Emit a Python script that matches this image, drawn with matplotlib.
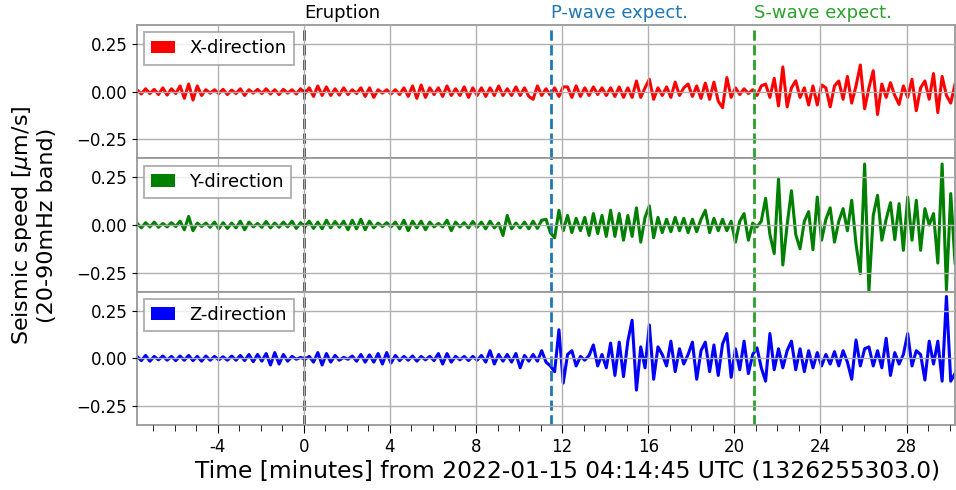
import numpy as np
import matplotlib
matplotlib.use('Agg')
import matplotlib.pyplot as plt
from matplotlib.patches import Patch
from matplotlib.ticker import MultipleLocator, FuncFormatter

# ===================== 数据 =====================
# 每 0.2 分钟一个点，从 -7.75 到 30.25 分钟（相对喷发时刻）
x_dir = [
    0.01, -0.012, 0.015, -0.01, 0.012, -0.015, 0.02, -0.018, 0.015, -0.01,
    0.03, -0.035, 0.04, -0.044, 0.03, -0.02, 0.01, -0.008, 0.01, -0.01,
    0.012, -0.015, 0.008, -0.01, 0.015, -0.02, 0.01, -0.008, 0.012, -0.01,
    0.015, -0.012, 0.01, -0.015, 0.012, -0.008, 0.01, -0.012, 0.015, -0.01,
    0.02, -0.025, 0.03, -0.02, 0.025, -0.02, 0.015, -0.018, 0.02, -0.015,
    0.01, -0.01, 0.02, -0.025, 0.02, -0.03, 0.01, -0.008, 0.01, -0.012,
    0.01, -0.015, 0.02, -0.025, 0.03, -0.035, 0.035, -0.03, 0.02, -0.015,
    0.02, -0.025, 0.03, -0.02, 0.015, -0.02, 0.025, -0.03, 0.02, -0.02,
    0.02, -0.025, 0.02, -0.02, 0.03, -0.02, 0.015, -0.02, 0.025, -0.02,
    0.02, -0.025, -0.04, 0.03, -0.02, 0.015, -0.018, 0.02, -0.025, 0.025,
    0.025, -0.03, 0.03, -0.025, 0.02, -0.02, 0.025, -0.015, 0.02, -0.02,
    0.02, -0.025, 0.025, -0.03, 0.02, -0.03, 0.056, -0.03, 0.02, 0.065,
    -0.04, 0.02, -0.02, 0.025, -0.03, 0.05, -0.02, 0.02, 0.04, -0.025,
    0.03, -0.035, 0.045, -0.04, 0.05, -0.05, -0.084, 0.074, -0.03, 0.02,
    -0.015, 0.015, -0.01, 0.01, -0.02, 0.03, 0.04, -0.03, 0.07, -0.075,
    0.13, -0.08, 0.02, 0.057, -0.03, 0.02, -0.07, 0.03, -0.07, 0.035,
    0.02, -0.08, 0.03, 0.056, -0.04, 0.08, -0.06, 0.03, 0.14, -0.09,
    0.02, 0.11, -0.12, 0.04, -0.03, 0.047, -0.02, -0.067, 0.03, -0.03,
    0.065, -0.1, 0.02, 0.056, -0.04, 0.095, -0.11, 0.08, -0.02, -0.06,
    0.04,
]
y_dir = [
    0.01, -0.015, 0.012, -0.01, 0.015, -0.012, 0.008, -0.01, 0.012, -0.008,
    0.02, -0.025, 0.045, -0.03, 0.01, -0.008, 0.01, -0.012, 0.015, -0.02,
    0.012, -0.018, 0.01, -0.015, 0.02, -0.025, 0.015, -0.01, 0.008, -0.012,
    0.018, -0.015, 0.01, -0.012, 0.015, -0.01, 0.02, -0.018, 0.012, -0.01,
    0.02, -0.018, 0.015, -0.02, 0.025, -0.015, 0.018, -0.012, 0.02, -0.025,
    0.025, -0.02, 0.03, -0.025, 0.02, -0.015, 0.01, -0.008, 0.012, -0.01,
    0.015, -0.02, 0.025, -0.03, 0.02, -0.015, 0.02, -0.025, 0.015, -0.01,
    0.008, -0.01, 0.025, -0.03, 0.015, -0.01, 0.012, -0.015, 0.018, -0.012,
    0.015, -0.02, 0.02, -0.015, 0.01, -0.055, 0.05, -0.02, 0.01, -0.015,
    0.015, -0.02, 0.02, -0.018, 0.025, 0.03, -0.04, -0.067, 0.077, -0.03,
    0.05, -0.04, 0.035, -0.03, 0.04, -0.055, 0.06, -0.045, 0.05, -0.06,
    0.077, -0.06, 0.06, -0.08, 0.05, -0.06, 0.09, -0.09, 0.04, 0.10,
    -0.067, 0.04, -0.04, 0.03, -0.035, 0.04, -0.03, 0.035, -0.04, 0.03,
    -0.035, 0.03, 0.077, -0.04, 0.035, -0.03, 0.03, -0.03, 0.02, -0.09,
    0.02, 0.06, -0.08, 0.01, -0.01, 0.02, 0.14, -0.05, -0.15, 0.245,
    -0.21, 0.0, 0.18, -0.05, -0.125, 0.02, 0.07, -0.13, 0.147, -0.08,
    0.03, 0.09, -0.09, 0.02, 0.086, -0.03, 0.13, -0.1, -0.256, 0.32,
    -0.344, 0.05, 0.156, -0.08, 0.03, 0.117, -0.077, 0.112, -0.133, 0.147,
    -0.08, 0.13, -0.133, 0.086, 0.0, 0.06, -0.2, 0.32, -0.34, 0.165,
    -0.2,
]
z_dir = [
    0.01, -0.012, 0.015, -0.015, 0.01, -0.008, 0.012, -0.01, 0.01, -0.012,
    0.012, -0.01, 0.015, -0.012, 0.01, -0.015, 0.012, -0.01, 0.01, -0.008,
    0.008, -0.01, 0.012, -0.01, 0.015, -0.012, 0.02, -0.018, 0.02, -0.015,
    0.025, -0.035, 0.03, -0.03, 0.02, -0.015, 0.01, -0.005, 0.005, -0.005,
    0.01, -0.02, 0.03, -0.035, 0.025, -0.02, 0.015, -0.01, 0.005, -0.005,
    0.012, -0.015, 0.02, -0.02, 0.018, -0.02, 0.025, -0.03, 0.03, -0.025,
    0.015, -0.012, 0.01, -0.01, 0.012, -0.015, 0.01, -0.008, 0.01, -0.012,
    0.025, -0.03, 0.025, -0.02, 0.01, -0.008, 0.01, -0.012, 0.01, -0.01,
    0.015, -0.02, 0.04, -0.03, 0.02, -0.015, 0.02, -0.02, 0.025, -0.05,
    0.015, -0.015, 0.02, -0.015, 0.04, -0.02, -0.04, -0.07, 0.15, -0.13,
    0.02, 0.04, -0.04, 0.01, -0.01, 0.015, 0.07, -0.04, 0.02, -0.05,
    0.08, -0.09, 0.085, -0.096, 0.09, 0.2, -0.167, 0.06, -0.05, 0.175,
    -0.11, 0.06, 0.02, -0.04, 0.09, -0.07, 0.05, -0.03, 0.02, 0.085,
    -0.11, 0.04, 0.085, -0.07, 0.07, -0.09, 0.075, 0.13, -0.1, 0.05,
    -0.06, 0.09, -0.08, 0.02, 0.055, -0.05, -0.12, 0.13, -0.06, 0.05,
    -0.05, 0.04, 0.09, -0.06, 0.05, -0.07, 0.04, -0.05, 0.03, -0.04,
    0.02, -0.03, 0.035, -0.04, 0.04, -0.02, -0.11, 0.096, -0.04, 0.05,
    0.06, -0.04, 0.04, -0.05, 0.105, -0.09, 0.03, -0.03, 0.02, 0.13,
    -0.04, 0.04, 0.02, -0.114, 0.09, -0.03, 0.09, -0.12, 0.325, -0.12,
    -0.08,
]
series = [('X-direction', x_dir, 'red'),
          ('Y-direction', y_dir, 'green'),
          ('Z-direction', z_dir, 'blue')]

t_start, t_end = -7.75, 30.25
t_eruption = 0.0
t_pwave = 11.46
t_swave = 20.92
xticks = [-4, 0, 4, 8, 12, 16, 20, 24, 28]
yticks = [-0.25, 0.0, 0.25]

# ===================== 画图 =====================
fig, axes = plt.subplots(3, 1, sharex=True, figsize=(9.56, 4.9), dpi=100)
fig.subplots_adjust(left=0.1433, right=0.999, bottom=0.1327, top=0.949, hspace=0)

for ax, (name, vals, col) in zip(axes, series):
    t = np.linspace(t_start, t_end, len(vals))
    ax.plot(t, vals, color=col, lw=2.2)
    ax.axvline(t_eruption, color='k', ls='--', lw=2, alpha=0.75)
    ax.axvline(t_pwave, color='tab:blue', ls='--', lw=2)
    ax.axvline(t_swave, color='tab:green', ls='--', lw=2)
    ax.set_ylim(-0.35, 0.35)
    ax.set_yticks(yticks)
    ax.set_xlim(t_start, t_end)
    ax.grid(True, color='#b0b0b0', lw=1)
    ax.set_axisbelow(False)
    for s in ax.spines.values():
        s.set_color('#999999')
        s.set_linewidth(1.3)
    ax.tick_params(axis='both', labelsize=12, direction='out')
    ax.tick_params(axis='x', which='both', bottom=False)
    leg = ax.legend(handles=[Patch(facecolor=col, label=name)], loc='upper left',
                    fontsize=13, fancybox=False, edgecolor='#999999',
                    handlelength=1.3, handleheight=0.7, borderaxespad=0.4)
    leg.get_frame().set_linewidth(1.3)

ax3 = axes[-1]
ax3.tick_params(axis='x', which='both', bottom=True)
ax3.tick_params(axis='x', which='major', length=6)
ax3.tick_params(axis='x', which='minor', length=4)
ax3.set_xticks(xticks)
ax3.xaxis.set_minor_locator(MultipleLocator(1))
ax3.xaxis.set_major_formatter(FuncFormatter(lambda v, p: f'{v:g}'))
ax3.set_xlabel('Time [minutes] from 2022-01-15 04:14:45 UTC (1326255303.0)', fontsize=16.8, labelpad=3)
ax3.xaxis.label.set_x(0.526)

axes[1].set_ylabel('Seismic speed [$\\mu$m/s]\n(20-90mHz band)', fontsize=16, labelpad=14)

top = axes[0]
trans = top.get_xaxis_transform()
top.text(t_eruption, 1.02, 'Eruption', transform=trans, ha='left', va='bottom', fontsize=13, color='k')
top.text(t_pwave, 1.02, 'P-wave expect.', transform=trans, ha='left', va='bottom', fontsize=13, color='tab:blue')
top.text(t_swave, 1.02, 'S-wave expect.', transform=trans, ha='left', va='bottom', fontsize=13, color='tab:green')

plt.savefig('out.png', dpi=100)
plt.close()
